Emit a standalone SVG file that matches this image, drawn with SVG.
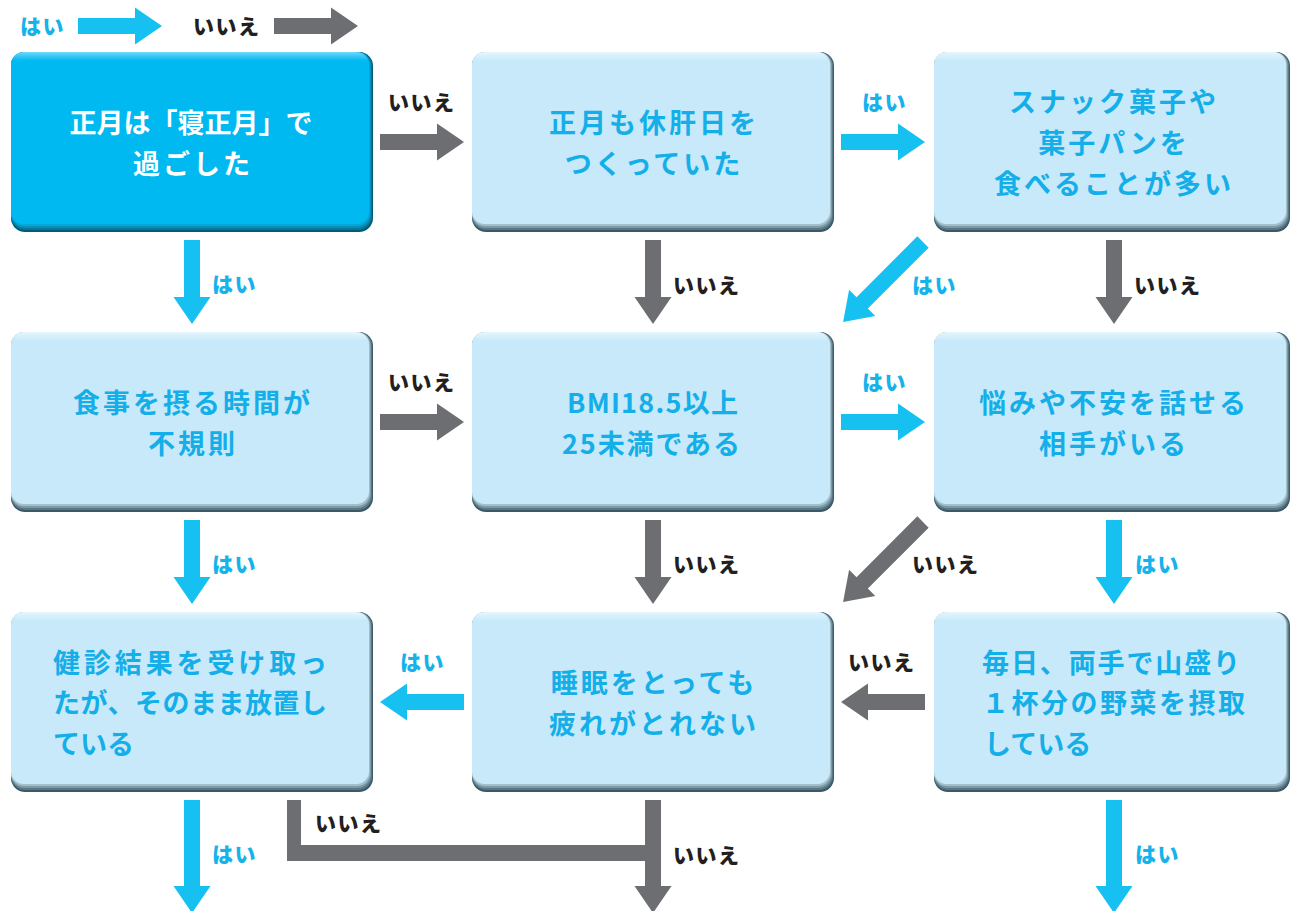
<svg xmlns="http://www.w3.org/2000/svg" xmlns:xlink="http://www.w3.org/1999/xlink" width="1290" height="911" viewBox="0 0 1290 911">
<style>
.t{font-family:"Noto Sans CJK JP","Noto Sans",sans-serif;font-weight:700;font-size:27px;fill:#14aee9;letter-spacing:3px}
.tw{fill:#ffffff}
.c{text-anchor:middle}
.lb{font-family:"Noto Sans CJK JP","Noto Sans",sans-serif;font-weight:900;font-size:21px;letter-spacing:1.5px}
.y{fill:#16b2ea}
.n{fill:#231f20}
.ab{fill:#16c1f2}
.ag{fill:#6d6e72}
</style>
<defs>
<linearGradient id="gL" x1="0" y1="0" x2="0" y2="1">
<stop offset="0" stop-color="#e6f6fd"/>
<stop offset="0.05" stop-color="#c7e9f9"/>
<stop offset="1" stop-color="#c7e9f9"/>
</linearGradient>
<linearGradient id="gB" x1="0" y1="0" x2="0" y2="1">
<stop offset="0" stop-color="#6fd6f8"/>
<stop offset="0.05" stop-color="#00b9f1"/>
<stop offset="1" stop-color="#00b9f1"/>
</linearGradient>
<g id="boxL">
<rect width="362" height="180" rx="14" fill="#3c5967"/>
<rect width="361" height="178" rx="14" fill="#5a7886"/>
<rect width="360" height="176" rx="13.5" fill="#7d9aa7"/>
<rect width="359" height="174" rx="13" fill="#a3bfcb"/>
<rect width="358" height="172" rx="12.5" fill="url(#gL)"/>
</g>
<g id="boxL2">
<rect width="356" height="180" rx="14" fill="#3c5967"/>
<rect width="355" height="178" rx="14" fill="#5a7886"/>
<rect width="354" height="176" rx="13.5" fill="#7d9aa7"/>
<rect width="353" height="174" rx="13" fill="#a3bfcb"/>
<rect width="352" height="172" rx="12.5" fill="url(#gL)"/>
</g>
<g id="boxB">
<rect width="362" height="180" rx="14" fill="#005a7a"/>
<rect width="361" height="178" rx="14" fill="#05779d"/>
<rect width="360" height="176" rx="13.5" fill="#0a8fb9"/>
<rect width="359" height="174" rx="13" fill="#05a6d8"/>
<rect width="358" height="172" rx="12.5" fill="url(#gB)"/>
</g>
<path id="ah" d="M0,-8H57V-18.5L84,0L57,18.5V8H0Z"/>
<path id="al" d="M0,-8H86V-18.5L113,0L86,18.5V8H0Z"/>
</defs>

<g id="legend">
<text class="lb y" x="20" y="34">はい</text>
<use href="#ah" class="ab" transform="translate(78,26)"/>
<text class="lb n" x="193" y="34">いいえ</text>
<use href="#ah" class="ag" transform="translate(274,26)"/>
</g>

<g id="n1">
<use href="#boxB" x="11" y="52"/>
<text class="t tw c" x="191" y="133" style="letter-spacing:0">正月は「寝正月」で</text>
<text class="t tw c" x="193" y="174">過ごした</text>
</g>
<g id="n2">
<use href="#boxL" x="472" y="52"/>
<text class="t c" x="654" y="133">正月も休肝日を</text>
<text class="t c" x="654" y="174">つくっていた</text>
</g>
<g id="n3">
<use href="#boxL2" x="934" y="52"/>
<text class="t c" x="1114" y="112">スナック菓子や</text>
<text class="t c" x="1114" y="153">菓子パンを</text>
<text class="t c" x="1114" y="194">食べることが多い</text>
</g>
<g id="n4">
<use href="#boxL" x="11" y="332"/>
<text class="t c" x="193" y="413">食事を摂る時間が</text>
<text class="t c" x="193" y="454">不規則</text>
</g>
<g id="n5">
<use href="#boxL" x="472" y="332"/>
<text class="t" x="567" y="413" textLength="171" lengthAdjust="spacing" style="letter-spacing:0">BMI18.5以上</text>
<text class="t" x="562" y="454" textLength="178" lengthAdjust="spacing" style="letter-spacing:0">25未満である</text>
</g>
<g id="n6">
<use href="#boxL2" x="934" y="332"/>
<text class="t c" x="1114" y="413">悩みや不安を話せる</text>
<text class="t c" x="1114" y="454">相手がいる</text>
</g>
<g id="n7">
<use href="#boxL" x="11" y="612"/>
<text class="t" x="53" y="673" textLength="274" lengthAdjust="spacing" style="letter-spacing:0">健診結果を受け取っ</text>
<text class="t" x="53" y="713" textLength="274" lengthAdjust="spacing" style="letter-spacing:0">たが、そのまま放置し</text>
<text class="t" x="53" y="754" style="letter-spacing:0">ている</text>
</g>
<g id="n8">
<use href="#boxL" x="472" y="612"/>
<text class="t c" x="654" y="693">睡眠をとっても</text>
<text class="t c" x="654" y="734">疲れがとれない</text>
</g>
<g id="n9">
<use href="#boxL2" x="934" y="612"/>
<text class="t" x="982" y="673" textLength="258" lengthAdjust="spacing" style="letter-spacing:0">毎日、両手で山盛り</text>
<text class="t" x="982" y="713" textLength="263" lengthAdjust="spacing" style="letter-spacing:0">１杯分の野菜を摂取</text>
<text class="t" x="984" y="754" style="letter-spacing:0">している</text>
</g>

<g id="connectors">
<use href="#ah" class="ag" transform="translate(380,142)"/>
<use href="#ah" class="ab" transform="translate(841,142)"/>
<use href="#ah" class="ag" transform="translate(380,422)"/>
<use href="#ah" class="ab" transform="translate(841,422)"/>
<use href="#ah" class="ab" transform="translate(464,702) rotate(180)"/>
<use href="#ah" class="ag" transform="translate(925,702) rotate(180)"/>
<use href="#ah" class="ab" transform="translate(192,240) rotate(90)"/>
<use href="#ah" class="ag" transform="translate(653,240) rotate(90)"/>
<use href="#ah" class="ag" transform="translate(1114,240) rotate(90)"/>
<use href="#ah" class="ab" transform="translate(192,520) rotate(90)"/>
<use href="#ah" class="ag" transform="translate(653,520) rotate(90)"/>
<use href="#ah" class="ab" transform="translate(1114,520) rotate(90)"/>
<use href="#al" class="ab" transform="translate(923,242) rotate(135)"/>
<use href="#al" class="ag" transform="translate(923,522) rotate(135)"/>
<use href="#al" class="ab" transform="translate(192,800) rotate(90)"/>
<use href="#al" class="ag" transform="translate(653,800) rotate(90)"/>
<use href="#al" class="ab" transform="translate(1114,800) rotate(90)"/>
<path class="ag" d="M287,800H301V845H653V861H287Z"/>
<text class="lb n" x="388" y="110">いいえ</text>
<text class="lb y" x="862" y="110">はい</text>
<text class="lb y" x="212" y="292">はい</text>
<text class="lb n" x="673" y="293">いいえ</text>
<text class="lb y" x="912" y="293">はい</text>
<text class="lb n" x="1134" y="293">いいえ</text>
<text class="lb n" x="388" y="390">いいえ</text>
<text class="lb y" x="862" y="390">はい</text>
<text class="lb y" x="212" y="572">はい</text>
<text class="lb n" x="673" y="572">いいえ</text>
<text class="lb n" x="912" y="572">いいえ</text>
<text class="lb y" x="1135" y="572">はい</text>
<text class="lb y" x="400" y="670">はい</text>
<text class="lb n" x="848" y="670">いいえ</text>
<text class="lb y" x="212" y="862">はい</text>
<text class="lb n" x="315" y="831">いいえ</text>
<text class="lb n" x="673" y="863">いいえ</text>
<text class="lb y" x="1135" y="862">はい</text>
</g>
</svg>
